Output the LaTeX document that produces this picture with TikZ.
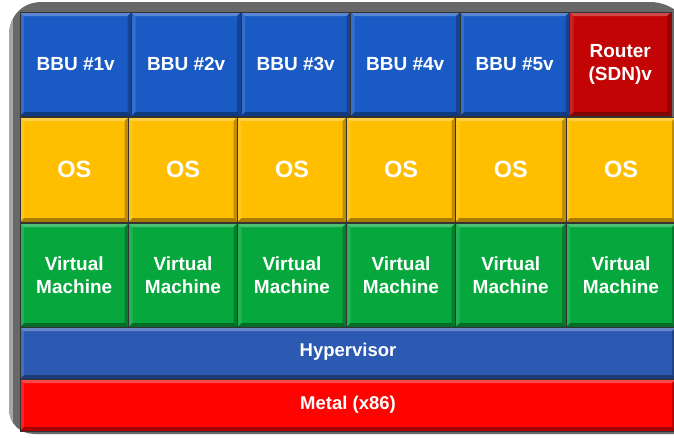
\documentclass[tikz,border=0pt]{standalone}
\usepackage{fontspec}
\setmainfont{Liberation Sans}
\definecolor{panelgray}{RGB}{104,104,104}
\definecolor{bbublue}{RGB}{26,90,196}
\definecolor{routerred}{RGB}{194,4,4}
\definecolor{osyellow}{RGB}{255,190,0}
\definecolor{vmgreen}{RGB}{6,168,62}
\definecolor{hvblue}{RGB}{44,90,178}
\definecolor{metalred}{RGB}{255,2,2}
\tikzset{
  blockbox/.style={draw=black!80, line width=0.9pt, inner sep=0pt, outer sep=0pt,
    text=white, font=\bfseries, align=center,
    path picture={
      % light upper and left bevel, dark lower and right bevel
      \fill[white, opacity=0.28]
        (path picture bounding box.north west) -- (path picture bounding box.north east)
        -- ([xshift=-4pt,yshift=-4pt]path picture bounding box.north east)
        -- ([xshift=4pt,yshift=-4pt]path picture bounding box.north west) -- cycle;
      \fill[white, opacity=0.12]
        (path picture bounding box.north west) -- ([xshift=4pt,yshift=-4pt]path picture bounding box.north west)
        -- ([xshift=4pt,yshift=4pt]path picture bounding box.south west)
        -- (path picture bounding box.south west) -- cycle;
      \fill[black, opacity=0.35]
        (path picture bounding box.south west) -- (path picture bounding box.south east)
        -- ([xshift=-4pt,yshift=4pt]path picture bounding box.south east)
        -- ([xshift=4pt,yshift=4pt]path picture bounding box.south west) -- cycle;
      \fill[black, opacity=0.25]
        (path picture bounding box.north east) -- ([xshift=-4pt,yshift=-4pt]path picture bounding box.north east)
        -- ([xshift=-4pt,yshift=4pt]path picture bounding box.south east)
        -- (path picture bounding box.south east) -- cycle;
    }},
  bbubox/.style={blockbox, fill=bbublue, font=\bfseries\fontsize{19}{23}\selectfont,
    minimum height=104pt},
  osbox/.style={blockbox, fill=osyellow, font=\bfseries\fontsize{23.5}{28}\selectfont,
    minimum height=105pt, minimum width=109pt},
  vmbox/.style={blockbox, fill=vmgreen, font=\bfseries\fontsize{19}{23}\selectfont,
    minimum height=104pt, minimum width=109pt},
  layerbox/.style={blockbox, font=\bfseries\fontsize{18.5}{22}\selectfont,
    minimum height=52pt, minimum width=656pt}
}
\begin{document}
\begin{tikzpicture}[x=1pt, y=-1pt]
\useasboundingbox (0,0) rectangle (674,437);
\fill[white] (0,0) rectangle (674,437);
% grey frame behind the stack: rounded on the left and at the top right
\def\framepath{(9,36) .. controls (9,16) and (22,2) .. (42,2) -- (650,2)
  .. controls (668,2) and (688,14) .. (688,34) -- (688,434) -- (35,434)
  .. controls (20,434) and (9,424) .. (9,408) -- cycle}
\fill[panelgray] \framepath;
\begin{scope}
  \clip \framepath;
  \fill[gray!70] (9,2) rectangle (13,434);
\end{scope}

% application row
\node[bbubox, minimum width=111.5pt] (bbu1) at (75.75,64) {BBU \#1v};
\node[bbubox, minimum width=109.5pt] (bbu2) at (186.25,64) {BBU \#2v};
\node[bbubox, minimum width=109.5pt] (bbu3) at (295.75,64) {BBU \#3v};
\node[bbubox, minimum width=109.5pt] (bbu4) at (405.25,64) {BBU \#4v};
\node[bbubox, minimum width=109.5pt] (bbu5) at (514.75,64) {BBU \#5v};
\node[bbubox, fill=routerred, minimum width=101.5pt] (router) at (620.25,64) {Router\\(SDN)v};

% operating system row
\node[osbox, minimum width=108.5pt] (os1) at (74.25,169.5) {OS};
\node[osbox] (os2) at (183,169.5) {OS};
\node[osbox] (os3) at (292,169.5) {OS};
\node[osbox] (os4) at (401,169.5) {OS};
\node[osbox, minimum width=110.5pt] (os5) at (510.75,169.5) {OS};
\node[osbox, minimum width=110pt] (os6) at (621,169.5) {OS};

% virtual machine row
\node[vmbox, minimum width=108.5pt] (vm1) at (74.25,275) {Virtual\\Machine};
\node[vmbox] (vm2) at (183,275) {Virtual\\Machine};
\node[vmbox] (vm3) at (292,275) {Virtual\\Machine};
\node[vmbox] (vm4) at (401,275) {Virtual\\Machine};
\node[vmbox, minimum width=110.5pt] (vm5) at (510.75,275) {Virtual\\Machine};
\node[vmbox, minimum width=110pt] (vm6) at (621,275) {Virtual\\Machine};

% shared layers
\node[layerbox, fill=hvblue] (hyper) at (348,353) {\raisebox{6pt}{Hypervisor}};
\node[layerbox, fill=metalred] (metal) at (348,405) {\raisebox{-1pt}{Metal (x86)}};
\end{tikzpicture}
\end{document}
